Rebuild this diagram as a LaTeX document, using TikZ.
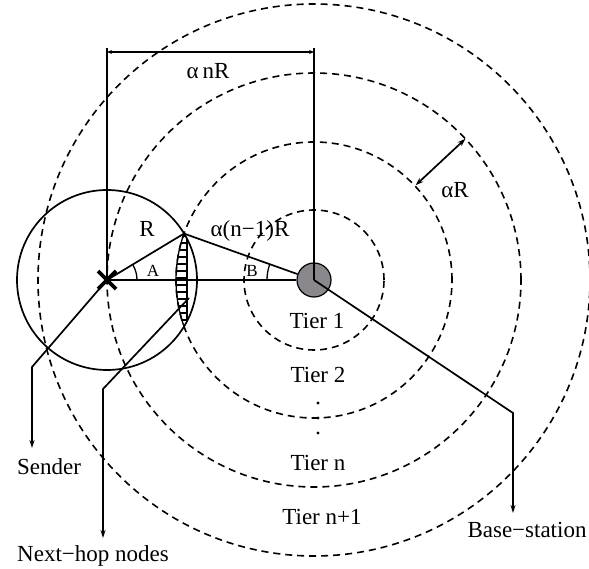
\documentclass[tikz,border=0pt]{standalone}
\usepackage{fontspec}
\setmainfont{Liberation Serif}
\usetikzlibrary{arrows.meta,calc}
\definecolor{bsgray}{RGB}{138,136,140}
\begin{document}
\begin{tikzpicture}[x=1pt,y=-1pt,
  tier/.style={dash pattern=on 7pt off 5pt, line width=1.6pt},
  thinline/.style={line width=1.7pt},
  lbl/.style={font=\fontsize{23}{26}\selectfont, inner sep=0pt, anchor=base},
  smalllbl/.style={font=\fontsize{17}{19}\selectfont, inner sep=0pt, anchor=base},
  pointer/.style={line width=1.7pt, -{Stealth[length=8pt,width=5pt]}},
  dimarrow/.style={line width=1.7pt, {Stealth[length=5pt,width=4pt]}-{Stealth[length=5pt,width=4pt]}},
  bsnode/.style={circle, draw, line width=1.2pt, fill=bsgray, minimum size=34pt, inner sep=0pt},
]
\useasboundingbox (0,0) rectangle (589,569);

% key points
\coordinate (S) at (107,280);
\coordinate (C) at (314,280);
\coordinate (P) at (184,233.6);

% tier circles
\foreach \r in {70,138,207,276}
  \draw[tier] (C) circle[radius=\r pt];

% sender range circle
\draw[thinline] (S) circle[radius=90pt];

% hatched region (next-hop nodes)
\begin{scope}
  \clip (S) circle[radius=90pt];
  \clip (C) circle[radius=138pt];
  \foreach \yy in {236,243,...,326}
    \draw[line width=1.1pt] (170,\yy) -- (187,\yy);
  \draw[line width=1.1pt] (187,230) -- (187,330);
\end{scope}
\begin{scope}
  \clip (S) circle[radius=90pt];
  \draw[line width=1.3pt] (C) circle[radius=138pt];
\end{scope}

% base station
\node[bsnode] (bs) at (C) {};

% dimension
\coordinate (dl) at (107,52);
\coordinate (dr) at (314,52);
\coordinate (tl) at (107,48);
\coordinate (tr) at (314,48);
\draw[thinline] (S) -- (tl);
\draw[thinline] (bs.center) -- (tr);
\draw[dimarrow] (dl) -- (dr);
\node[lbl] (anr) at (208,79) {α\,nR};

% triangle
\draw[thinline] (S) -- (bs.west);
\draw[thinline] (S) -- (P);
\draw[thinline] (P) -- (bs);

% angles
\draw[line width=1.3pt] ($(S)+(0:30pt)$) arc[start angle=0, end angle=29.7, radius=30pt];
\draw[line width=1.3pt] ($(C)+(180:47pt)$) arc[start angle=180, end angle=160.6, radius=47pt];
\node[smalllbl] (A) at (153,277) {A};
\node[smalllbl] (B) at (252,277) {B};
\node[lbl] (Rl) at (147,237) {R};
\node[lbl] (an1) at (250,237) {α(n−1)R};

% alpha R
\coordinate (ai) at ($(C)+(43:139pt)$);
\coordinate (ao) at ($(C)+(43:207pt)$);
\draw[line width=1.7pt, {Stealth[length=8pt,width=5.5pt]}-{Stealth[length=8pt,width=5.5pt]}] (ai) -- (ao);
\node[lbl] (aR) at (455,198) {αR};

% sender cross
\draw[line width=3.8pt] ($(S)+(-9,-9)$) -- ($(S)+(9,9)$);
\draw[line width=3.8pt] ($(S)+(-9,9)$) -- ($(S)+(9,-9)$);

% tier labels
\node[lbl] (t1) at (317,328) {Tier 1};
\node[lbl] (t2) at (318,382) {Tier 2};
\node[lbl] (tn) at (318,470) {Tier n};
\node[lbl] (tn1) at (322,524) {Tier n+1};
\foreach \yy in {403,418,433}
  \fill (318,\yy) circle[radius=1.7pt];

% pointers
\coordinate (sk) at (32,367);
\coordinate (se) at (32,448);
\draw[pointer] (S) -- (sk) -- (se);
\node[lbl] (sender) at (49,474) {Sender};

\coordinate (ns) at (189,298);
\coordinate (nk) at (103,389);
\coordinate (ne) at (103,538);
\draw[pointer] (ns) -- (nk) -- (ne);
\node[lbl] (next) at (93,561) {Next−hop nodes};

\coordinate (bk) at (513,413);
\coordinate (be) at (513,513);
\draw[pointer] (bs.center) -- (bk) -- (be);
\node[lbl] (base) at (527,537) {Base−station};
\end{tikzpicture}
\end{document}
